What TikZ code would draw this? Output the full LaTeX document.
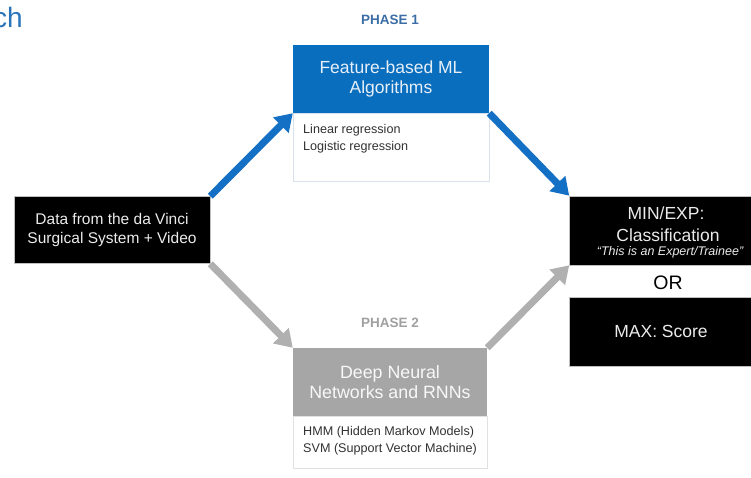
\documentclass[tikz,border=0pt]{standalone}
\usepackage{fontspec}
\setmainfont{Liberation Sans}
\usetikzlibrary{arrows.meta}
\definecolor{mblue}{RGB}{10,110,190}
\definecolor{ablue}{RGB}{20,112,196}
\definecolor{mgray}{RGB}{166,166,166}
\definecolor{agray}{RGB}{176,176,176}
\definecolor{ptwo}{RGB}{160,160,160}
\definecolor{pone}{RGB}{60,110,165}
\definecolor{bordblue}{RGB}{215,225,238}
\definecolor{bordgray}{RGB}{225,225,225}
\definecolor{txtdark}{RGB}{50,50,50}
\definecolor{chblue}{RGB}{40,115,185}
\tikzset{
  px/.style={x=1pt,y=-1pt},
  blackbox/.style={fill=black, draw=gray!50, line width=0.6pt, text=white!92!black, align=center, inner sep=0pt},
  bluebox/.style={fill=mblue, text=white!90!mblue, align=center, inner sep=0pt, font=\fontsize{17.5}{20}\selectfont},
  graybox/.style={fill=mgray, text=white!92!mgray, align=center, inner sep=0pt, font=\fontsize{17.8}{20}\selectfont},
  listbox/.style={fill=white, line width=0.8pt, inner sep=0pt},
  listtext/.style={text=txtdark, align=left, anchor=north west, inner sep=0pt, font=\fontsize{12.6}{17}\selectfont},
  phaselabel/.style={font=\bfseries\fontsize{13.5}{15}\selectfont},
  bigarrow/.style={line width=7pt, -{Triangle[width=21pt,length=17pt]}},
}
\begin{document}
\begin{tikzpicture}[px]
\useasboundingbox (0,0) rectangle (751,477);
% cut-off title
\node[anchor=base east, inner sep=0pt, text=chblue, font=\fontsize{28}{30}\selectfont] (title) at (23,27) {ch};
% phase labels
\node[phaselabel, text=pone] (p1) at (390,20) {PHASE 1};
\node[phaselabel, text=ptwo] (p2) at (390,323) {PHASE 2};
% source
\node[blackbox, minimum width=196pt, minimum height=67pt, font=\fontsize{15.5}{18.5}\selectfont] (src) at (112,230) {Data from the da Vinci\\Surgical System + Video};
% phase 1
\node[listbox, draw=bordblue, minimum width=196pt, minimum height=68pt] (f1b) at (391,147) {};
\node[bluebox, minimum width=196pt, minimum height=68pt] (f1) at (391,79) {Feature-based ML\\Algorithms};
\node[listtext] (f1t) at (303,124) {Linear regression\\Logistic regression};
% phase 2
\node[listbox, draw=bordgray, minimum width=194pt, minimum height=52pt] (d2b) at (390,442) {};
\node[graybox, minimum width=194pt, minimum height=68pt] (d2) at (390,382) {Deep Neural\\Networks and RNNs};
\node[listtext] (d2t) at (303,426) {HMM (Hidden Markov Models)\\SVM (Support Vector Machine)};
% outcomes
\node[blackbox, minimum width=183pt, minimum height=69pt] (r1) at (661,230.5) {};
\node[text=white!92!black, font=\fontsize{17.5}{19}\selectfont] (r1a) at (666,213) {MIN/EXP:};
\node[text=white!92!black, font=\fontsize{17.5}{19}\selectfont] (r1b) at (668,235) {Classification};
\node[text=white!92!black, font=\itshape\fontsize{12.5}{14}\selectfont] (r1c) at (670,252) {“This is an Expert/Trainee”};
\node[font=\fontsize{19.5}{20}\selectfont] (or) at (668,283) {OR};
\node[blackbox, minimum width=183pt, minimum height=69pt, font=\fontsize{17.5}{20}\selectfont] (r2) at (661,331.5) {MAX: Score};
% arrows
\draw[bigarrow, ablue] (src.north east) -- (f1.south west);
\draw[bigarrow, ablue] (f1.south east) -- (r1.north west);
\draw[bigarrow, agray] (src.south east) -- (d2.north west);
\draw[bigarrow, agray] (d2.north east) -- (r1.south west);
\end{tikzpicture}
\end{document}
